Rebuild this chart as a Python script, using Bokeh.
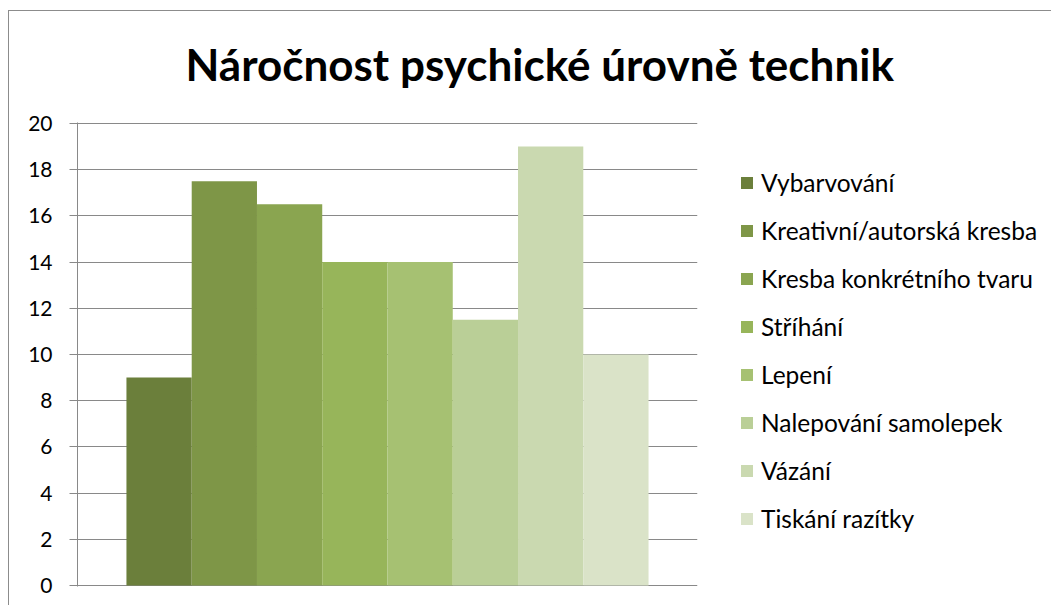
from bokeh.plotting import figure
from bokeh.models import (ColumnDataSource, FactorRange, Range1d, FixedTicker,
                          Legend, LegendItem, Title)
from bokeh.embed import file_html
from bokeh.resources import INLINE

title_text = "Náročnost psychické úrovně technik"
categories = ["Vybarvování", "Kreativní/autorská kresba", "Kresba konkrétního tvaru",
              "Stříhání", "Lepení", "Nalepování samolepek", "Vázání", "Tiskání razítky"]
values = [9, 17.5, 16.5, 14, 14, 11.5, 19, 10]
colors = ["#6B7F3B", "#7E9647", "#8AA550", "#97B55A", "#A6C172", "#BACF97", "#CAD9B0", "#DAE3C8"]
y_ticks = [0, 2, 4, 6, 8, 10, 12, 14, 16, 18, 20]

FONT = "Lato"
GRID = "#898989"

src = ColumnDataSource(dict(cat=categories, val=values, col=colors))

p = figure(title=None, frame_width=620, frame_height=464, output_backend="svg", toolbar_location=None,
           x_range=FactorRange(*categories, range_padding=0.75, range_padding_units="absolute"),
           y_range=Range1d(-0.04, 20.04),
           min_border_left=68, min_border_right=0, min_border_top=111, min_border_bottom=19)
p.styles = {"margin-left": "8px", "margin-top": "10px",
            "border-left": "1px solid #8c8c8c", "border-top": "1px solid #8c8c8c"}
p.outline_line_color = None
p.background_fill_color = "white"
p.border_fill_color = "white"

r = p.vbar(x="cat", top="val", width=1.0, bottom=0, source=src,
           fill_color="col", line_color=None)

p.xaxis.visible = False
p.xgrid.visible = False
p.ygrid.ticker = FixedTicker(ticks=y_ticks)
p.ygrid.grid_line_color = GRID
p.ygrid.grid_line_width = 1
p.ygrid.level = "underlay"

ya = p.yaxis[0]
ya.ticker = FixedTicker(ticks=y_ticks)
ya.axis_line_color = GRID
ya.major_tick_line_color = GRID
ya.major_tick_out = 8
ya.major_tick_in = 0
ya.minor_tick_line_color = None
ya.major_label_standoff = 17
ya.major_label_text_font = FONT
ya.major_label_text_font_size = "21px"
ya.major_label_text_color = "#000000"

items = [LegendItem(label=c, renderers=[r], index=i) for i, c in enumerate(categories)]
legend = Legend(items=items, location=(42, 53), orientation="vertical",
                glyph_width=15, glyph_height=15, label_height=30, spacing=18,
                label_standoff=7, padding=0, margin=0,
                label_text_font=FONT, label_text_font_size="24.5px", label_text_color="#000000",
                border_line_color=None, background_fill_alpha=0)
p.add_layout(legend, "right")

# spacer between the frame and the title (closest to the frame)
p.add_layout(Title(text=" ", text_font_size="12px", standoff=17), "above")
p.add_layout(Title(text=title_text, align="left", offset=108, standoff=0,
                   text_font=FONT, text_font_style="bold", text_font_size="44px",
                   text_color="#000000"), "above")

open("out.html", "w").write(file_html(p, INLINE))
